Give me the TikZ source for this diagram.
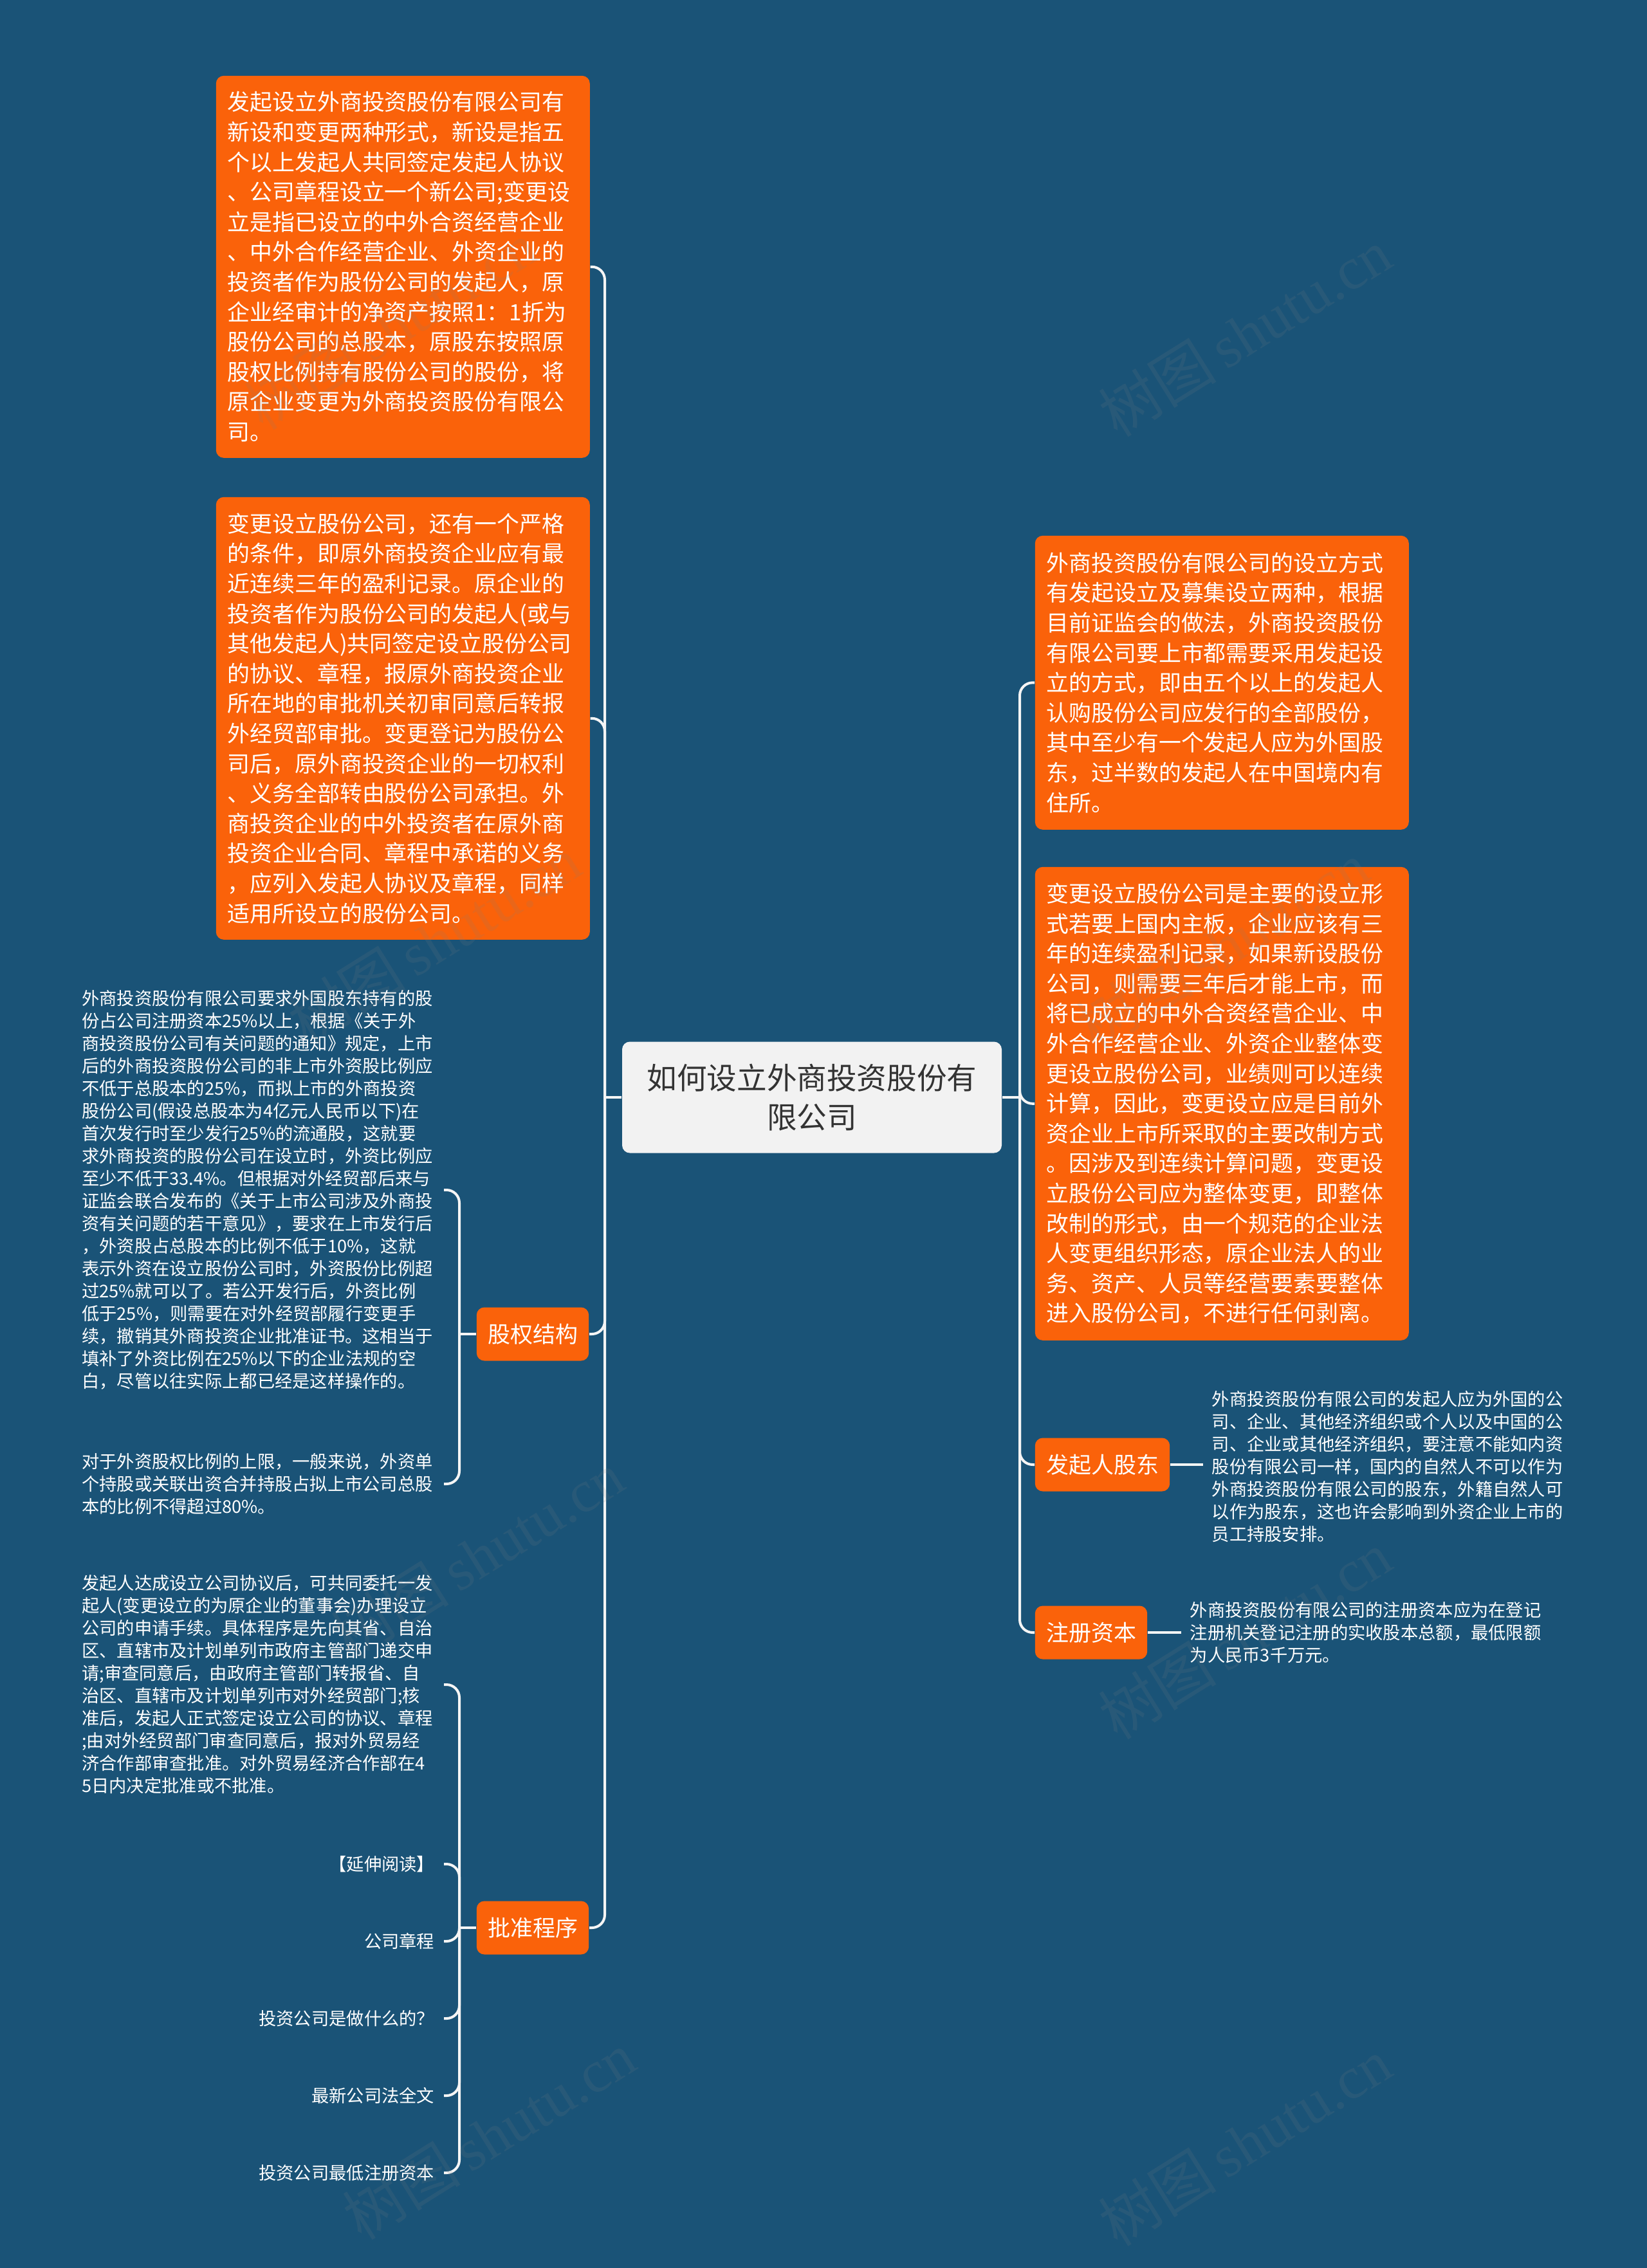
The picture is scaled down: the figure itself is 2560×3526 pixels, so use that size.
\documentclass[tikz,border=0pt]{standalone}
\usepackage{fontspec}
\setmainfont{Noto Sans CJK SC}
\newfontfamily\wmlatin{Liberation Serif}
\usetikzlibrary{calc}
\definecolor{bgblue}{RGB}{26,83,119}
\definecolor{orng}{RGB}{250,98,10}
\definecolor{rootfill}{RGB}{242,242,242}
\definecolor{roottext}{RGB}{51,51,51}
\definecolor{linec}{RGB}{245,245,245}
\tikzset{
  bigbox/.style={fill=orng, text=white, rounded corners=3pt, inner xsep=4.5pt, inner ysep=0pt,
    text width=136.25pt, align=left, anchor=north west, minimum width=145.25pt,
    font=\fontsize{8.72pt}{11.65pt}\selectfont},
  lab/.style={fill=orng, text=white, rounded corners=3pt, inner xsep=4.3pt, inner ysep=0pt,
    minimum height=20.75pt, anchor=west, font=\fontsize{8.75pt}{10pt}\selectfont},
  rootbox/.style={fill=rootfill, text=roottext, rounded corners=3pt, align=center,
    minimum width=147.5pt, minimum height=43.25pt, inner sep=0pt,
    font=\fontsize{11.65pt}{15.25pt}\selectfont},
  smalltxt/.style={text=white, inner xsep=3.5pt, inner ysep=0pt,
    font=\fontsize{6.82pt}{8.75pt}\selectfont},
  blocktxt/.style={smalltxt, text width=137pt, align=left, anchor=east},
  leaf/.style={smalltxt, align=right, anchor=east},
  conn/.style={draw=linec, line width=1pt},
  wm/.style={rotate=32, text=gray, opacity=0.14, inner sep=0pt, font=\fontsize{23pt}{23pt}\selectfont}
}
\begin{document}
\begin{tikzpicture}[x=0.25pt,y=-0.25pt]
\fill[bgblue] (0,0) rectangle (2560,3526);
\useasboundingbox (0,0) rectangle (2560,3526);

% root
\node[rootbox] (root) at (1262,1706) {如何设立外商投资股份有\\限公司};

% left big boxes
\node[bigbox, minimum height=148.5pt] (boxA) at (335,117) {发起设立外商投资股份有限公司有\\新设和变更两种形式，新设是指五\\个以上发起人共同签定发起人协议\\、公司章程设立一个新公司;变更设\\立是指已设立的中外合资经营企业\\、中外合作经营企业、外资企业的\\投资者作为股份公司的发起人，原\\企业经审计的净资产按照1：1折为\\股份公司的总股本，原股东按照原\\股权比例持有股份公司的股份，将\\原企业变更为外商投资股份有限公\\司。};
\node[bigbox, minimum height=172pt] (boxB) at (335,772) {变更设立股份公司，还有一个严格\\的条件，即原外商投资企业应有最\\近连续三年的盈利记录。原企业的\\投资者作为股份公司的发起人(或与\\其他发起人)共同签定设立股份公司\\的协议、章程，报原外商投资企业\\所在地的审批机关初审同意后转报\\外经贸部审批。变更登记为股份公\\司后，原外商投资企业的一切权利\\、义务全部转由股份公司承担。外\\商投资企业的中外投资者在原外商\\投资企业合同、章程中承诺的义务\\，应列入发起人协议及章程，同样\\适用所设立的股份公司。};

% left labels
\node[lab] (guquan) at (740,2074) {股权结构};
\node[lab] (pizhun) at (740,2997) {批准程序};

% left texts
\node[blocktxt] (c1) at (690,1850) {外商投资股份有限公司要求外国股东持有的股\\份占公司注册资本25\%以上，根据《关于外\\商投资股份公司有关问题的通知》规定，上市\\后的外商投资股份公司的非上市外资股比例应\\不低于总股本的25\%，而拟上市的外商投资\\股份公司(假设总股本为4亿元人民币以下)在\\首次发行时至少发行25\%的流通股，这就要\\求外商投资的股份公司在设立时，外资比例应\\至少不低于33.4\%。但根据对外经贸部后来与\\证监会联合发布的《关于上市公司涉及外商投\\资有关问题的若干意见》，要求在上市发行后\\，外资股占总股本的比例不低于10\%，这就\\表示外资在设立股份公司时，外资股份比例超\\过25\%就可以了。若公开发行后，外资比例\\低于25\%，则需要在对外经贸部履行变更手\\续，撤销其外商投资企业批准证书。这相当于\\填补了外资比例在25\%以下的企业法规的空\\白，尽管以往实际上都已经是这样操作的。};
\node[blocktxt] (c2) at (690,2307) {对于外资股权比例的上限，一般来说，外资单\\个持股或关联出资合并持股占拟上市公司总股\\本的比例不得超过80\%。};
\node[blocktxt] (d1) at (690,2619) {发起人达成设立公司协议后，可共同委托一发\\起人(变更设立的为原企业的董事会)办理设立\\公司的申请手续。具体程序是先向其省、自治\\区、直辖市及计划单列市政府主管部门递交申\\请;审查同意后，由政府主管部门转报省、自\\治区、直辖市及计划单列市对外经贸部门;核\\准后，发起人正式签定设立公司的协议、章程\\;由对外经贸部门审查同意后，报对外贸易经\\济合作部审查批准。对外贸易经济合作部在4\\5日内决定批准或不批准。};
\node[leaf] (l1) at (690,2898) {【延伸阅读】};
\node[leaf] (l2) at (690,3018) {公司章程};
\node[leaf] (l3) at (690,3138) {投资公司是做什么的？};
\node[leaf] (l4) at (690,3258) {最新公司法全文};
\node[leaf] (l5) at (690,3378) {投资公司最低注册资本};

% right big boxes
\node[bigbox, minimum height=114.25pt] (boxE) at (1608,832) {外商投资股份有限公司的设立方式\\有发起设立及募集设立两种，根据\\目前证监会的做法，外商投资股份\\有限公司要上市都需要采用发起设\\立的方式，即由五个以上的发起人\\认购股份公司应发行的全部股份，\\其中至少有一个发起人应为外国股\\东，过半数的发起人在中国境内有\\住所。};
\node[bigbox, minimum height=184pt] (boxF) at (1608,1347) {变更设立股份公司是主要的设立形\\式若要上国内主板，企业应该有三\\年的连续盈利记录，如果新设股份\\公司，则需要三年后才能上市，而\\将已成立的中外合资经营企业、中\\外合作经营企业、外资企业整体变\\更设立股份公司，业绩则可以连续\\计算，因此，变更设立应是目前外\\资企业上市所采取的主要改制方式\\。因涉及到连续计算问题，变更设\\立股份公司应为整体变更，即整体\\改制的形式，由一个规范的企业法\\人变更组织形态，原企业法人的业\\务、资产、人员等经营要素要整体\\进入股份公司，不进行任何剥离。};

% right labels
\node[lab] (faqi) at (1608,2277) {发起人股东};
\node[lab] (zhuce) at (1608,2538) {注册资本};
\node[smalltxt, align=left, anchor=west, inner xsep=3.25pt] (t3) at (1870,2280) {外商投资股份有限公司的发起人应为外国的公\\司、企业、其他经济组织或个人以及中国的公\\司、企业或其他经济组织，要注意不能如内资\\股份有限公司一样，国内的自然人不可以作为\\外商投资股份有限公司的股东，外籍自然人可\\以作为股东，这也许会影响到外资企业上市的\\员工持股安排。};
\node[smalltxt, align=left, anchor=west, inner xsep=3.25pt] (t4) at (1836,2538) {外商投资股份有限公司的注册资本应为在登记\\注册机关登记注册的实收股本总额，最低限额\\为人民币3千万元。};

% connectors: root to children
\coordinate (lj) at (940,1706);
\coordinate (rj) at (1585,1706);
\draw[conn] (root.west) -- (lj);
\draw[conn] (root.east) -- (rj);
\foreach \n in {boxA,boxB,guquan,pizhun}
  \draw[conn, rounded corners=5pt] (lj) |- (\n.east);
\foreach \n in {boxE,boxF,faqi,zhuce}
  \draw[conn, rounded corners=5pt] (rj) |- (\n.west);

% second level left
\coordinate (bq) at (714,2074);
\coordinate (bp) at (714,2997);
\draw[conn] (guquan.west) -- (bq);
\draw[conn] (pizhun.west) -- (bp);
\foreach \n in {c1,c2}
  \draw[conn, rounded corners=5pt] (bq) |- (\n.east);
\foreach \n in {d1,l1,l2,l3,l4,l5}
  \draw[conn, rounded corners=5pt] (bp) |- (\n.east);

% second level right
\draw[conn] (faqi.east) -- (faqi.east -| t3.west);
\draw[conn] (zhuce.east) -- (t4.west);

% watermarks
\foreach \x/\y [count=\i] in {607/506, 1935/517, 675/1462, 1900/1470, 742/2418, 1935/2542, 760/3320, 1935/3330}
  \node[wm] (wm\i) at (\x,\y) {树图\,{\wmlatin shutu.cn}};
\end{tikzpicture}
\end{document}
